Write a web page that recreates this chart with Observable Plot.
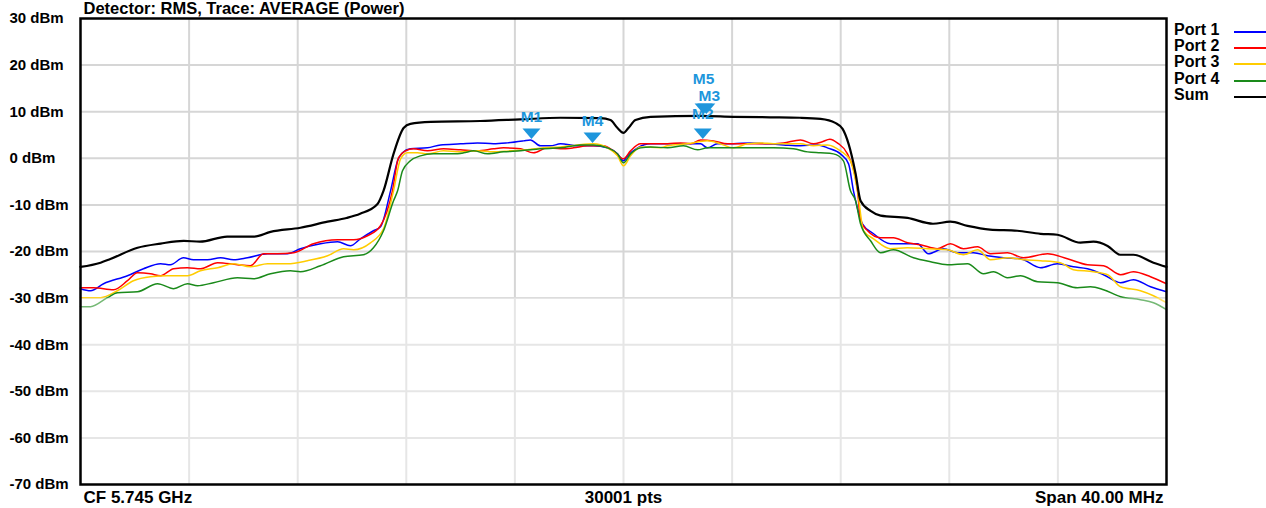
<!DOCTYPE html>
<html>
<head>
<meta charset="utf-8">
<script src="https://cdn.jsdelivr.net/npm/d3@7"></script>
<script src="https://cdn.jsdelivr.net/npm/@observablehq/plot@0.6"></script>
<style>
  html, body { margin: 0; padding: 0; background: white; }
  #wrap { position: relative; width: 1266px; height: 508px; overflow: hidden; }
  #legend { position: absolute; left: 1174px; top: 22px; font: bold 16px "Liberation Sans", Arial, sans-serif; color: #000; }
  #legend .row { position: relative; height: 16.2px; line-height: 16px; white-space: nowrap; }
  #legend .sw { position: absolute; left: 60px; top: 9px; width: 34px; height: 2px; }
</style>
</head>
<body>
<div id="wrap"><div id="legend"></div></div>
<script>
// ---- data (frequency offset from CF in MHz, level in dBm) ----
const seriesNames = ["Port 1", "Port 2", "Port 3", "Port 4", "Sum"];
const seriesColors = ["#0000ff", "#ff0000", "#ffcc00", "#1a8a1a", "#000000"];
const yTicks = [30, 20, 10, 0, -10, -20, -30, -40, -50, -60, -70];
const xGrid = [-20, -16, -12, -8, -4, 0, 4, 8, 12, 16, 20];
const fadeLevel = -30;
const titleText = "Detector: RMS, Trace: AVERAGE (Power)";
const footLeft = "CF 5.745 GHz";
const footMid = "30001 pts";
const footRight = "Span 40.00 MHz";

const sumTrace = [[-20,-23.3],[-19.26,-22.4],[-18.9,-21.6],[-17.9,-19.2],[-17.05,-18.3],[-16.2,-17.7],[-15.6,-17.9],[-14.6,-16.8],[-13.6,-16.8],[-13.0,-15.8],[-11.9,-14.9],[-10.9,-13.6],[-10.2,-12.8],[-9.7,-11.9],[-9.06,-9.8],[-8.84,-7.0],[-8.47,0.95],[-8.1,6.5],[-7.85,7.4],[-7.1,7.8],[-5.27,8.0],[-3.8,8.35],[-2.32,8.7],[-0.85,8.6],[-0.48,8.2],[-0.22,6.5],[0,5.45],[0.18,6.5],[0.44,8.2],[1.0,8.9],[2.84,9.1],[4.05,8.9],[5.4,8.8],[6.5,8.7],[7.26,8.45],[7.8,7.6],[8.07,6.3],[8.29,3.1],[8.55,-3.3],[8.73,-9.1],[9.1,-11.3],[9.47,-12.3],[10.46,-12.8],[11.4,-14.05],[12.04,-13.6],[12.67,-14.5],[13.5,-15.3],[14.5,-15.55],[15.36,-16.2],[15.98,-16.4],[16.83,-18.1],[17.31,-17.9],[17.83,-18.8],[18.3,-20.7],[18.78,-20.7],[19.52,-22.4],[20,-23.3]];

const port1 = [[-20,-27.98],[-19.63,-28.42],[-19.15,-26.91],[-18.27,-25.2],[-17.68,-23.7],[-17.05,-22.62],[-16.69,-22.84],[-16.21,-21.34],[-15.84,-21.77],[-15.32,-21.77],[-14.84,-21.34],[-14.36,-21.77],[-13.85,-21.34],[-13.11,-20.48],[-12.38,-20.48],[-11.9,-19.41],[-11.16,-18.34],[-10.53,-17.91],[-10.06,-18.77],[-9.69,-17.27],[-9.21,-15.55],[-8.95,-14.69],[-8.58,-6.98],[-8.32,-0.54],[-8.14,1.17],[-7.85,2.03],[-7.22,2.24],[-6.74,2.88],[-6.0,3.1],[-5.38,3.31],[-4.79,3.1],[-4.27,3.31],[-3.68,3.74],[-3.43,3.95],[-3.06,2.67],[-2.69,2.67],[-2.32,3.1],[-1.69,2.67],[-1.11,2.67],[-0.59,2.24],[-0.22,0.95],[0,-0.54],[0.15,0.52],[0.52,2.24],[0.99,3.1],[1.62,3.1],[2.21,3.1],[2.84,3.1],[3.09,2.24],[3.46,3.1],[4.05,3.1],[4.68,3.31],[5.3,3.1],[5.89,2.88],[6.52,2.67],[7.15,2.88],[7.51,2.24],[7.99,0.95],[8.29,-1.19],[8.47,-6.98],[8.55,-9.12],[8.8,-14.05],[9.21,-16.19],[9.83,-18.34],[10.46,-18.34],[10.83,-18.34],[11.23,-20.48],[11.79,-19.41],[12.3,-20.27],[12.89,-20.27],[13.41,-20.91],[14.0,-21.34],[14.62,-21.55],[15.36,-23.48],[15.98,-22.62],[16.57,-23.27],[17.09,-23.7],[17.68,-24.98],[18.31,-26.7],[18.78,-26.05],[19.41,-27.56],[20,-28.63]];

const port2 = [[-20,-27.77],[-19.52,-27.77],[-18.78,-28.2],[-18.27,-26.27],[-17.9,-24.55],[-17.42,-24.77],[-17.05,-25.2],[-16.57,-23.7],[-16.06,-23.48],[-15.58,-23.7],[-14.95,-22.41],[-14.22,-22.84],[-13.74,-23.05],[-13.26,-20.48],[-12.74,-20.48],[-12.15,-20.27],[-11.42,-18.34],[-10.53,-17.48],[-9.94,-17.48],[-9.43,-16.62],[-8.95,-14.48],[-8.51,-6.98],[-8.29,0.1],[-8.03,1.6],[-7.74,2.03],[-7.22,1.6],[-6.63,2.03],[-6.0,1.81],[-5.38,1.6],[-4.79,2.03],[-4.42,2.24],[-3.79,2.03],[-3.32,1.17],[-2.8,2.24],[-2.32,2.03],[-1.84,2.24],[-1.33,2.67],[-0.74,2.67],[-0.37,1.6],[0,-0.11],[0.26,1.6],[0.63,3.1],[0.99,3.1],[1.62,3.1],[2.1,3.31],[2.47,3.1],[2.84,3.95],[3.31,3.74],[3.83,3.1],[4.31,3.1],[4.79,3.1],[5.3,3.1],[5.89,3.31],[6.52,3.95],[7.0,3.1],[7.3,3.5],[7.6,4.1],[7.9,3.2],[8.25,0.95],[8.62,-6.98],[8.73,-13.41],[8.99,-15.55],[9.47,-17.05],[9.94,-17.05],[10.46,-18.13],[10.94,-18.55],[11.56,-19.41],[12.04,-18.34],[12.52,-19.41],[13.04,-18.98],[13.52,-20.48],[14.14,-20.27],[14.73,-21.34],[15.62,-20.48],[16.35,-21.55],[17.09,-22.84],[17.68,-23.05],[18.31,-24.98],[18.78,-24.34],[19.41,-25.41],[20,-26.91]];

const port3 = [[-20,-29.91],[-19.26,-29.91],[-18.64,-28.42],[-18.05,-26.27],[-17.42,-25.41],[-16.8,-25.2],[-16.06,-25.2],[-15.58,-24.13],[-14.95,-23.48],[-14.36,-22.62],[-13.74,-23.27],[-13.11,-22.62],[-12.38,-22.62],[-11.64,-21.98],[-10.9,-20.91],[-10.31,-19.41],[-9.94,-19.62],[-9.32,-18.13],[-8.84,-15.12],[-8.47,-6.98],[-8.21,-0.11],[-7.96,1.17],[-7.59,1.17],[-7.22,0.95],[-6.63,1.6],[-6.0,1.38],[-5.38,1.6],[-4.79,1.38],[-4.16,1.6],[-3.54,1.81],[-2.95,2.24],[-2.32,2.45],[-1.69,2.88],[-1.11,3.1],[-0.59,2.24],[-0.22,0.52],[0,-1.62],[0.26,0.52],[0.63,2.45],[1.36,2.24],[1.62,2.67],[2.36,3.1],[3.09,3.74],[3.57,3.1],[4.05,2.24],[4.57,3.1],[5.05,3.31],[5.52,3.1],[6.04,3.1],[6.52,3.1],[7.0,2.67],[7.51,2.88],[7.99,1.6],[8.36,-0.54],[8.62,-6.98],[8.84,-15.55],[9.21,-17.27],[9.83,-19.41],[10.46,-19.2],[11.2,-19.41],[11.93,-19.62],[12.52,-20.69],[13.04,-19.62],[13.52,-21.77],[14.14,-21.34],[14.73,-21.77],[15.36,-21.98],[16.09,-22.41],[16.57,-23.91],[17.31,-24.34],[17.83,-24.98],[18.31,-27.56],[19.04,-28.42],[19.52,-29.49],[20,-30.99]];

const port4 = [[-20,-31.84],[-19.63,-31.84],[-19.01,-29.91],[-18.64,-28.84],[-17.9,-28.63],[-17.16,-26.91],[-16.57,-27.98],[-16.06,-26.91],[-15.69,-27.34],[-15.1,-26.7],[-14.22,-25.63],[-13.63,-25.84],[-13.0,-24.77],[-12.27,-24.13],[-11.9,-24.34],[-11.16,-23.05],[-10.31,-21.12],[-9.58,-20.69],[-9.21,-19.2],[-8.84,-15.55],[-8.47,-9.12],[-8.32,-6.98],[-8.14,-2.69],[-7.85,-0.54],[-7.48,0.52],[-7.0,0.95],[-6.26,0.95],[-5.89,1.17],[-5.52,1.6],[-5.01,0.95],[-4.42,1.38],[-3.79,1.6],[-3.06,2.03],[-2.32,2.24],[-1.58,2.88],[-1.11,2.88],[-0.59,2.24],[-0.22,0.95],[0,-0.98],[0.26,0.95],[0.63,2.24],[0.99,2.45],[1.62,2.24],[2.21,2.67],[2.73,1.81],[3.09,2.24],[3.83,2.24],[4.31,2.24],[5.05,2.24],[5.52,2.24],[6.26,2.03],[6.78,1.38],[7.26,1.17],[7.73,0.95],[8.1,-0.54],[8.36,-6.98],[8.55,-9.12],[8.73,-14.05],[9.1,-17.7],[9.47,-20.27],[9.94,-19.62],[10.68,-21.34],[11.31,-22.2],[11.93,-22.84],[12.67,-22.62],[13.26,-24.77],[13.63,-24.34],[14.14,-25.63],[14.62,-25.2],[15.25,-26.48],[15.98,-26.7],[16.72,-27.77],[17.2,-27.56],[17.68,-28.2],[18.31,-29.7],[19.04,-30.34],[19.52,-30.99],[20,-32.49]];

// markers: name, frequency offset (MHz), level (dBm)
const markerNames = ["M1", "M4", "M2", "M5", "M3"];
const markerFreqs = [-3.39, -1.14, 2.92, 2.95, 3.05];
const markerLevels = [4.15, 3.3, 4.15, 9.5, 9.5];

// ---- build tables ----
const traces = [port1, port2, port3, port4, sumTrace];
const lineData = traces.flatMap((t, i) => t.map(([f, v]) => ({series: seriesNames[i], f, v})));
const markers = markerNames.map((name, i) => ({name, f: markerFreqs[i], v: markerLevels[i]}));

const markerColor = "#1e96dc";
const labelDy = {M1: -22, M4: -22, M2: -25, M3: -18, M5: -35};
const labelDx = {M1: 0, M4: 0, M2: 0, M3: 3, M5: 0};
const downTri = {
  draw(ctx) { ctx.moveTo(-9, -10.5); ctx.lineTo(9, -10.5); ctx.lineTo(0, 0); ctx.closePath(); }
};
const font = '"Liberation Sans", Arial, sans-serif';

const chart = Plot.plot({
  width: 1266,
  height: 508,
  marginLeft: 80,
  marginRight: 100,
  marginTop: 18,
  marginBottom: 24,
  style: {fontFamily: font, background: "white", overflow: "visible"},
  x: {domain: [-20, 20], axis: null},
  y: {domain: [-70, 30], axis: null},
  color: {domain: seriesNames, range: seriesColors},
  marks: [
    Plot.ruleX(xGrid.slice(1, -1), {stroke: "#d6d6d6", strokeWidth: 2}),
    Plot.ruleY(yTicks.slice(1, -1), {stroke: "#d6d6d6", strokeWidth: 2}),
    Plot.line(lineData.filter(d => d.series !== "Sum"), {x: "f", y: "v", z: "series", stroke: "series", strokeWidth: 1.5, curve: "monotone-x"}),
    Plot.line(lineData.filter(d => d.series === "Sum"), {x: "f", y: "v", stroke: "series", strokeWidth: 2.2, curve: "monotone-x"}),
    Plot.rect([{y1: yTicks[yTicks.length - 1], y2: fadeLevel}], {x1: xGrid[0], x2: xGrid[xGrid.length - 1], y1: "y1", y2: "y2", fill: "white", fillOpacity: 0.4}),
    Plot.dot(markers, {x: "f", y: "v", symbol: downTri, fill: markerColor, stroke: "none", r: 5}),
    ...markers.map(m => Plot.text([m], {x: "f", y: "v", text: "name", dy: labelDy[m.name], dx: labelDx[m.name], fill: markerColor, fontWeight: "bold", fontSize: 15.5})),
    Plot.frame({stroke: "black", strokeWidth: 2.5}),
    Plot.text(yTicks, {y: d => d, frameAnchor: "left", textAnchor: "start", dx: -71, text: d => `${d} dBm`, fontWeight: "bold", fontSize: 15, fill: "black"}),
    Plot.text([titleText], {frameAnchor: "top-left", textAnchor: "start", lineAnchor: "bottom", dx: 3, dy: -4.5, fontWeight: "bold", fontSize: 16.5, fill: "black"}),
    Plot.text([footLeft], {frameAnchor: "bottom-left", textAnchor: "start", lineAnchor: "middle", dx: 3, dy: 13, fontWeight: "bold", fontSize: 17, fill: "black"}),
    Plot.text([footMid], {frameAnchor: "bottom", textAnchor: "middle", lineAnchor: "middle", dy: 13, fontWeight: "bold", fontSize: 17, fill: "black"}),
    Plot.text([footRight], {frameAnchor: "bottom-right", textAnchor: "end", lineAnchor: "middle", dx: -3, dy: 13, fontWeight: "bold", fontSize: 17, fill: "black"})
  ]
});

const wrap = document.getElementById("wrap");
wrap.insertBefore(chart, wrap.firstChild);
chart.style.position = "absolute";
chart.style.left = "0px";
chart.style.top = "0px";

const legend = document.getElementById("legend");
seriesNames.forEach((name, i) => {
  const row = document.createElement("div");
  row.className = "row";
  row.textContent = name;
  const sw = document.createElement("div");
  sw.className = "sw";
  sw.style.background = seriesColors[i];
  row.appendChild(sw);
  legend.appendChild(row);
});
</script>
</body>
</html>
